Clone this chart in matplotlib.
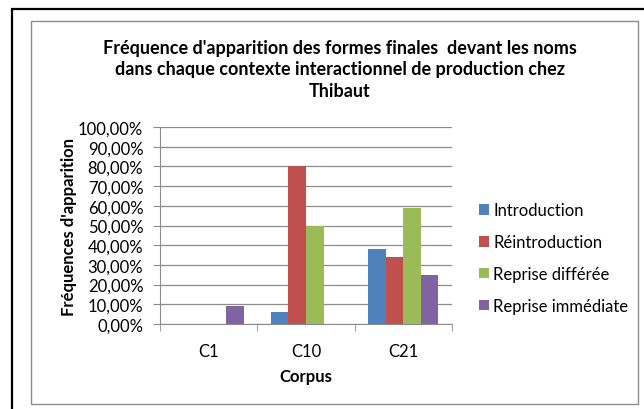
import matplotlib.pyplot as plt
import numpy as np
from matplotlib.patches import Rectangle, Patch
from matplotlib.ticker import FuncFormatter

plt.rcParams['font.family'] = ['Lato', 'DejaVu Sans']

corpus = ["C1", "C10", "C21"]
series = ["Introduction", "Réintroduction", "Reprise différée", "Reprise immédiate"]
introduction = [0.0, 6.0, 38.0]
reintroduction = [0.0, 80.0, 34.0]
reprise_differee = [0.0, 50.0, 59.0]
reprise_immediate = [9.0, 0.0, 25.0]
colors = ["#4F81BD", "#C0504D", "#9BBB59", "#8064A2"]

values = [introduction, reintroduction, reprise_differee, reprise_immediate]

fig = plt.figure(figsize=(6.44, 4.10), dpi=100)

# outer black frame and inner grey frame
fig.patches.append(Rectangle((12 / 644, -0.1), 1.1, (410 - 10) / 410 + 0.1, transform=fig.transFigure,
                             fill=False, edgecolor="black", linewidth=1.6))
fig.patches.append(Rectangle((31 / 644, 5 / 410), (638 - 31) / 644, (410 - 22 - 5) / 410,
                             transform=fig.transFigure, fill=False, edgecolor="#8c8c8c", linewidth=1.0))

ax = fig.add_axes([160 / 644, 1 - 325 / 410, (452 - 160) / 644, (325 - 128) / 410])

x = np.arange(len(corpus))
width = 0.18
for i, (name, vals) in enumerate(zip(series, values)):
    ax.bar(x + (i - 1.5) * width, vals, width, color=colors[i], label=name, zorder=3)

ax.set_xlim(-0.5, len(corpus) - 0.5)
ax.set_ylim(0, 100)
ax.set_yticks(np.arange(0, 101, 10))
ax.yaxis.set_major_formatter(FuncFormatter(lambda v, p: f"{v:.2f}%".replace(".", ",")))
ax.set_xticks(x)
ax.set_xticklabels(corpus)
ax.set_xticks(np.arange(-0.5, len(corpus), 1), minor=True)
ax.tick_params(axis="x", which="major", length=0, pad=14, labelsize=12)
ax.tick_params(axis="x", which="minor", length=5, color="#8c8c8c", direction="out")
ax.tick_params(axis="y", length=5, color="#8c8c8c", labelsize=12, pad=7)
ax.grid(axis="y", color="#8c8c8c", linewidth=0.9, zorder=0)
for side in ["top", "right"]:
    ax.spines[side].set_visible(False)
ax.spines["left"].set_color("#8c8c8c")
ax.spines["bottom"].set_color("#8c8c8c")

ax.set_xlabel("Corpus", fontsize=12, fontweight="bold", labelpad=6)
ax.set_ylabel("Fréquences d'apparition", fontsize=12, fontweight="bold", labelpad=1)

fig.text(340 / 644, 1 - 70 / 410,
         "Fréquence d'apparition des formes finales  devant les noms\n"
         "dans chaque contexte interactionnel de production chez\nThibaut",
         ha="center", va="center", fontsize=13, fontweight="bold", linespacing=1.32)

handles = [Patch(facecolor=c, label=s) for c, s in zip(colors, series)]
fig.legend(handles=handles, loc="center left", bbox_to_anchor=(464 / 644, 1 - 259 / 410),
           frameon=False, fontsize=12, handlelength=0.6, handleheight=0.6,
           handletextpad=0.25, labelspacing=0.95)

fig.savefig("out.png", dpi=100)
